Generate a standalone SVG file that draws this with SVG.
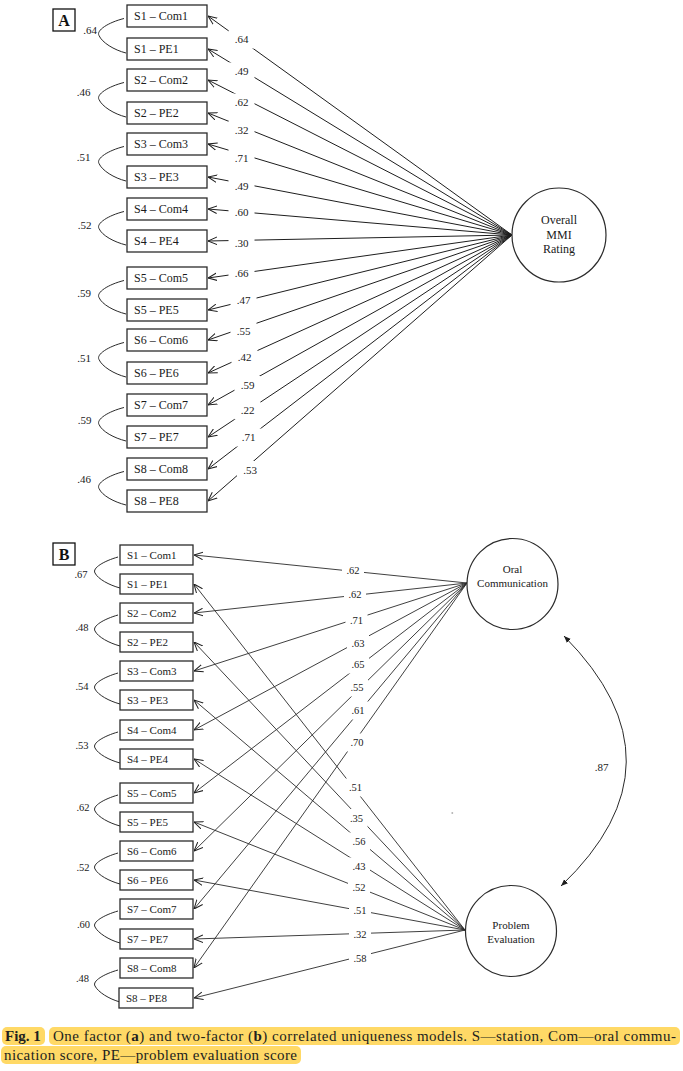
<svg xmlns="http://www.w3.org/2000/svg" width="683" height="1071" viewBox="0 0 683 1071">
<defs>
<style>
.bx{fill:#fff;stroke:#2b2b2b;stroke-width:1.3}
.lat{fill:#fff;stroke:#2b2b2b;stroke-width:1.2}
.ln{stroke:#1e1e1e;stroke-width:1;fill:none}
.ln-b{stroke:#2a2a2a;stroke-width:0.9;fill:none}
.cv{stroke:#2a2a2a;stroke-width:1;fill:none}
.gap{fill:#fff}
.ta{font-family:"Liberation Serif","Times New Roman",serif;font-size:12px;fill:#1a1a1a}
.tb{font-family:"Liberation Serif","Times New Roman",serif;font-size:11px;fill:#1a1a1a}
.na{font-family:"Liberation Serif","Times New Roman",serif;font-size:11px;fill:#1a1a1a;text-anchor:middle}
.nb{font-family:"Liberation Serif","Times New Roman",serif;font-size:10.5px;fill:#1a1a1a;text-anchor:middle}
.ct{font-family:"Liberation Serif","Times New Roman",serif;font-size:12px;fill:#1a1a1a;text-anchor:middle}
.ctb{font-family:"Liberation Serif","Times New Roman",serif;font-size:11px;fill:#1a1a1a;text-anchor:middle}
.pl{font-family:"Liberation Serif","Times New Roman",serif;font-size:16px;font-weight:bold;fill:#111;text-anchor:middle}
.cap{font-family:"Liberation Serif","Times New Roman",serif;font-size:15px;fill:#231f20}
.hl{fill:#FFD966}
</style>
<marker id="oa" viewBox="0 0 10 10" refX="10" refY="5" markerWidth="9" markerHeight="9" markerUnits="userSpaceOnUse" orient="auto">
<path d="M0,0.8 L10,5 L0,9.2" fill="none" stroke="#1e1e1e" stroke-width="1.1"/>
</marker>
<marker id="fa" viewBox="0 0 10 10" refX="10" refY="5" markerWidth="7" markerHeight="7" markerUnits="userSpaceOnUse" orient="auto-start-reverse">
<path d="M0,1 L10,5 L0,9 z" fill="#1e1e1e"/>
</marker>
</defs>
<rect width="683" height="1071" fill="#fff"/>

<!-- Panel labels -->
<g id="label-A"><rect x="53" y="9" width="22" height="22" fill="#fff" stroke="#111" stroke-width="1.3"/><text class="pl" x="64" y="26">A</text></g>
<g id="label-B"><rect x="53" y="543" width="22" height="22" fill="#fff" stroke="#111" stroke-width="1.3"/><text class="pl" x="64" y="560">B</text></g>

<!-- Connectors -->
<g id="connectors">
<!-- Panel A loadings -->
<g marker-end="url(#oa)" class="ln">
<line x1="512" y1="235" x2="208" y2="16"/>
<line x1="512" y1="235" x2="208" y2="49"/>
<line x1="512" y1="235" x2="208" y2="80"/>
<line x1="512" y1="235" x2="208" y2="113"/>
<line x1="512" y1="235" x2="208" y2="144"/>
<line x1="512" y1="235" x2="208" y2="177"/>
<line x1="512" y1="235" x2="208" y2="209"/>
<line x1="512" y1="235" x2="208" y2="241"/>
<line x1="512" y1="235" x2="208" y2="278"/>
<line x1="512" y1="235" x2="208" y2="310"/>
<line x1="512" y1="235" x2="208" y2="340"/>
<line x1="512" y1="235" x2="208" y2="373"/>
<line x1="512" y1="235" x2="208" y2="405"/>
<line x1="512" y1="235" x2="208" y2="437"/>
<line x1="512" y1="235" x2="208" y2="469"/>
<line x1="512" y1="235" x2="208" y2="501"/>
</g>
<g class="gap">
<rect x="228.5" y="30.5" width="26" height="18"/>
<rect x="228.5" y="62.5" width="26" height="18"/>
<rect x="228.5" y="93.5" width="26" height="18"/>
<rect x="228.5" y="121" width="26" height="18"/>
<rect x="228.5" y="149" width="26" height="18"/>
<rect x="228.5" y="177.5" width="26" height="18"/>
<rect x="228.5" y="203.5" width="26" height="18"/>
<rect x="228.5" y="234" width="26" height="18"/>
<rect x="228.5" y="264.5" width="26" height="18"/>
<rect x="230.5" y="291" width="26" height="18"/>
<rect x="230.5" y="322" width="26" height="18"/>
<rect x="231.5" y="348.5" width="26" height="18"/>
<rect x="234.5" y="376" width="26" height="18"/>
<rect x="234.5" y="401.5" width="26" height="18"/>
<rect x="235.5" y="428.5" width="26" height="18"/>
<rect x="237" y="461" width="26" height="18"/>
</g>
<g class="na">
<text x="241.5" y="43.3">.64</text>
<text x="241.5" y="75.3">.49</text>
<text x="241.5" y="106.3">.62</text>
<text x="241.5" y="133.8">.32</text>
<text x="241.5" y="161.8">.71</text>
<text x="241.5" y="190.3">.49</text>
<text x="241.5" y="216.3">.60</text>
<text x="241.5" y="246.8">.30</text>
<text x="241.5" y="277.3">.66</text>
<text x="243.5" y="303.8">.47</text>
<text x="243.5" y="334.8">.55</text>
<text x="244.5" y="361.3">.42</text>
<text x="247.5" y="388.8">.59</text>
<text x="247.5" y="414.3">.22</text>
<text x="248.5" y="441.3">.71</text>
<text x="250" y="473.8">.53</text>
</g>
<!-- Panel A correlated uniquenesses -->
<g class="cv">
<path d="M124,18.5 C108,22.5 96,30.5 99,35.5 C102,42.5 114,50 126,53"/>
<path d="M124,82.5 C108,86.5 96,94.5 99,99.5 C102,106.5 114,114 126,117"/>
<path d="M124,146.5 C108,150.5 96,158.5 99,163.5 C102,170.5 114,178 126,181"/>
<path d="M124,211.5 C108,215.5 96,223.5 99,228.5 C102,235.5 114,242 126,245"/>
<path d="M124,280.5 C108,284.5 96,292.5 99,297.5 C102,304.5 114,311 126,314"/>
<path d="M124,342.5 C108,346.5 96,354.5 99,359.5 C102,366.5 114,374 126,377"/>
<path d="M124,407.5 C108,411.5 96,419.5 99,424.5 C102,431.5 114,438 126,441"/>
<path d="M124,471.5 C108,475.5 96,483.5 99,488.5 C102,495.5 114,502 126,505"/>
</g>
<g class="na">
<text x="90" y="33.8">.64</text>
<text x="83.5" y="95.8">.46</text>
<text x="83.5" y="160.8">.51</text>
<text x="84.5" y="228.8">.52</text>
<text x="84" y="297.3">.59</text>
<text x="84" y="362.3">.51</text>
<text x="84.5" y="423.8">.59</text>
<text x="84" y="483.3">.46</text>
</g>

<!-- Panel B loadings -->
<g marker-end="url(#oa)" class="ln-b">
<line x1="467" y1="583" x2="194" y2="555"/>
<line x1="467" y1="583" x2="194" y2="613"/>
<line x1="467" y1="583" x2="194" y2="671"/>
<line x1="467" y1="583" x2="194" y2="730"/>
<line x1="467" y1="583" x2="194" y2="793"/>
<line x1="467" y1="583" x2="194" y2="851"/>
<line x1="467" y1="583" x2="194" y2="909"/>
<line x1="467" y1="583" x2="194" y2="968"/>
<line x1="465" y1="930" x2="194" y2="584"/>
<line x1="465" y1="930" x2="194" y2="642"/>
<line x1="465" y1="930" x2="194" y2="700"/>
<line x1="465" y1="930" x2="194" y2="759"/>
<line x1="465" y1="930" x2="194" y2="822"/>
<line x1="465" y1="930" x2="194" y2="880"/>
<line x1="465" y1="930" x2="194" y2="939"/>
<line x1="465" y1="930" x2="194" y2="998"/>
</g>
<g class="gap">
<rect x="342" y="561" width="22" height="18"/>
<rect x="344" y="585.5" width="22" height="18"/>
<rect x="345.5" y="611" width="22" height="18"/>
<rect x="347" y="634.5" width="22" height="18"/>
<rect x="347" y="655.5" width="22" height="18"/>
<rect x="346" y="678.5" width="22" height="18"/>
<rect x="347" y="701.5" width="22" height="18"/>
<rect x="346" y="733.5" width="22" height="18"/>
<rect x="344.5" y="778.5" width="22" height="18"/>
<rect x="345.5" y="809" width="22" height="18"/>
<rect x="348" y="832.5" width="22" height="18"/>
<rect x="348" y="857.5" width="22" height="18"/>
<rect x="348" y="878.5" width="22" height="18"/>
<rect x="349" y="901.5" width="22" height="18"/>
<rect x="349" y="925" width="22" height="18"/>
<rect x="349" y="949" width="22" height="18"/>
</g>
<g class="nb">
<text x="353" y="573.6">.62</text>
<text x="355" y="598.1">.62</text>
<text x="356.5" y="623.6">.71</text>
<text x="358" y="647.1">.63</text>
<text x="358" y="668.1">.65</text>
<text x="357" y="691.1">.55</text>
<text x="358" y="714.1">.61</text>
<text x="357" y="746.1">.70</text>
<text x="355.5" y="791.1">.51</text>
<text x="356.5" y="821.6">.35</text>
<text x="359" y="845.1">.56</text>
<text x="359" y="870.1">.43</text>
<text x="359" y="891.1">.52</text>
<text x="360" y="914.1">.51</text>
<text x="360" y="937.6">.32</text>
<text x="360" y="961.6">.58</text>
</g>
<!-- Panel B correlated uniquenesses -->
<g class="cv">
<path d="M118,557 C104,561 92,568 95,573 C98,579 109,585 120,588"/>
<path d="M118,615 C104,619 92,626 95,631 C98,637 109,643 120,646"/>
<path d="M118,673 C104,677 92,684 95,689 C98,695 109,701 120,704"/>
<path d="M118,732 C104,736 92,743 95,748 C98,754 109,760 120,763"/>
<path d="M118,795 C104,799 92,806 95,811 C98,817 109,823 120,826"/>
<path d="M118,853 C104,857 92,864 95,869 C98,875 109,881 120,884"/>
<path d="M118,911 C104,915 92,922 95,927 C98,933 109,940 120,943"/>
<path d="M118,970 C104,974 92,981 95,986 C98,992 109,999 120,1002"/>
</g>
<g class="nb">
<text x="81" y="577.6">.67</text>
<text x="82" y="630.6">.48</text>
<text x="82" y="689.6">.54</text>
<text x="82" y="748.6">.53</text>
<text x="83" y="811.1">.62</text>
<text x="83" y="871.1">.52</text>
<text x="83.5" y="927.6">.60</text>
<text x="82.5" y="982.1">.48</text>
</g>
<!-- factor correlation -->
<path class="cv" d="M564,636 Q690,763 561,886" marker-start="url(#fa)" marker-end="url(#fa)"/>
<text class="na" x="601.5" y="770.8">.87</text>
</g>

<!-- Panel A nodes -->
<g id="a-s1-com1"><rect class="bx" x="127" y="5" width="80" height="22"/><text class="ta" x="134" y="20">S1 – Com1</text></g>
<g id="a-s1-pe1"><rect class="bx" x="127" y="38" width="80" height="22"/><text class="ta" x="134" y="53">S1 – PE1</text></g>
<g id="a-s2-com2"><rect class="bx" x="127" y="69" width="80" height="22"/><text class="ta" x="134" y="84">S2 – Com2</text></g>
<g id="a-s2-pe2"><rect class="bx" x="127" y="102" width="80" height="22"/><text class="ta" x="134" y="117">S2 – PE2</text></g>
<g id="a-s3-com3"><rect class="bx" x="127" y="133" width="80" height="22"/><text class="ta" x="134" y="148">S3 – Com3</text></g>
<g id="a-s3-pe3"><rect class="bx" x="127" y="166" width="80" height="22"/><text class="ta" x="134" y="181">S3 – PE3</text></g>
<g id="a-s4-com4"><rect class="bx" x="127" y="198" width="80" height="22"/><text class="ta" x="134" y="213">S4 – Com4</text></g>
<g id="a-s4-pe4"><rect class="bx" x="127" y="230" width="80" height="22"/><text class="ta" x="134" y="245">S4 – PE4</text></g>
<g id="a-s5-com5"><rect class="bx" x="127" y="267" width="80" height="22"/><text class="ta" x="134" y="282">S5 – Com5</text></g>
<g id="a-s5-pe5"><rect class="bx" x="127" y="299" width="80" height="22"/><text class="ta" x="134" y="314">S5 – PE5</text></g>
<g id="a-s6-com6"><rect class="bx" x="127" y="329" width="80" height="22"/><text class="ta" x="134" y="344">S6 – Com6</text></g>
<g id="a-s6-pe6"><rect class="bx" x="127" y="362" width="80" height="22"/><text class="ta" x="134" y="377">S6 – PE6</text></g>
<g id="a-s7-com7"><rect class="bx" x="127" y="394" width="80" height="22"/><text class="ta" x="134" y="409">S7 – Com7</text></g>
<g id="a-s7-pe7"><rect class="bx" x="127" y="426" width="80" height="22"/><text class="ta" x="134" y="441">S7 – PE7</text></g>
<g id="a-s8-com8"><rect class="bx" x="127" y="458" width="80" height="22"/><text class="ta" x="134" y="473">S8 – Com8</text></g>
<g id="a-s8-pe8"><rect class="bx" x="127" y="490" width="80" height="22"/><text class="ta" x="134" y="505">S8 – PE8</text></g>
<g id="a-overall"><circle class="lat" cx="559" cy="235" r="47"/><text class="ct" x="559" y="224">Overall</text><text class="ct" x="559" y="239">MMI</text><text class="ct" x="559" y="253">Rating</text></g>

<!-- Panel B nodes -->
<g id="b-s1-com1"><rect class="bx" x="120" y="545" width="73" height="20"/><text class="tb" x="127" y="559">S1 – Com1</text></g>
<g id="b-s1-pe1"><rect class="bx" x="120" y="574" width="73" height="20"/><text class="tb" x="127" y="588">S1 – PE1</text></g>
<g id="b-s2-com2"><rect class="bx" x="120" y="603" width="73" height="20"/><text class="tb" x="127" y="617">S2 – Com2</text></g>
<g id="b-s2-pe2"><rect class="bx" x="120" y="632" width="73" height="20"/><text class="tb" x="127" y="646">S2 – PE2</text></g>
<g id="b-s3-com3"><rect class="bx" x="120" y="661" width="73" height="20"/><text class="tb" x="127" y="675">S3 – Com3</text></g>
<g id="b-s3-pe3"><rect class="bx" x="120" y="690" width="73" height="20"/><text class="tb" x="127" y="704">S3 – PE3</text></g>
<g id="b-s4-com4"><rect class="bx" x="120" y="720" width="73" height="20"/><text class="tb" x="127" y="734">S4 – Com4</text></g>
<g id="b-s4-pe4"><rect class="bx" x="120" y="749" width="73" height="20"/><text class="tb" x="127" y="763">S4 – PE4</text></g>
<g id="b-s5-com5"><rect class="bx" x="120" y="783" width="73" height="20"/><text class="tb" x="127" y="797">S5 – Com5</text></g>
<g id="b-s5-pe5"><rect class="bx" x="120" y="812" width="73" height="20"/><text class="tb" x="127" y="826">S5 – PE5</text></g>
<g id="b-s6-com6"><rect class="bx" x="120" y="841" width="73" height="20"/><text class="tb" x="127" y="855">S6 – Com6</text></g>
<g id="b-s6-pe6"><rect class="bx" x="120" y="870" width="73" height="20"/><text class="tb" x="127" y="884">S6 – PE6</text></g>
<g id="b-s7-com7"><rect class="bx" x="120" y="899" width="73" height="20"/><text class="tb" x="127" y="913">S7 – Com7</text></g>
<g id="b-s7-pe7"><rect class="bx" x="120" y="929" width="73" height="20"/><text class="tb" x="127" y="943">S7 – PE7</text></g>
<g id="b-s8-com8"><rect class="bx" x="120" y="958" width="73" height="20"/><text class="tb" x="127" y="972">S8 – Com8</text></g>
<g id="b-s8-pe8"><rect class="bx" x="119" y="988" width="74" height="20"/><text class="tb" x="126" y="1002">S8 – PE8</text></g>
<g id="b-oral"><circle class="lat" cx="512.5" cy="584" r="45.5"/><text class="ctb" x="512.5" y="573">Oral</text><text class="ctb" x="512.5" y="587">Communication</text></g>
<g id="b-problem"><circle class="lat" cx="511" cy="931" r="45.5"/><text class="ctb" x="511" y="929">Problem</text><text class="ctb" x="511" y="942.5">Evaluation</text></g>
<rect x="451.5" y="812.5" width="1.6" height="1" fill="#777"/>

<!-- Caption -->
<g id="caption">
<rect class="hl" x="2" y="1027" width="43" height="18" rx="5"/>
<rect class="hl" x="49" y="1027" width="631" height="18" rx="5"/>
<rect class="hl" x="1" y="1046" width="300" height="18" rx="5"/>
<text class="cap" x="5" y="1041" font-weight="bold">Fig. 1</text>
<text class="cap" x="53" y="1041" textLength="623" lengthAdjust="spacing">One factor (<tspan font-weight="bold">a</tspan>) and two-factor (<tspan font-weight="bold">b</tspan>) correlated uniqueness models. S—station, Com—oral commu-</text>
<text class="cap" x="4" y="1060" textLength="293" lengthAdjust="spacing">nication score, PE—problem evaluation score</text>
</g>
</svg>
